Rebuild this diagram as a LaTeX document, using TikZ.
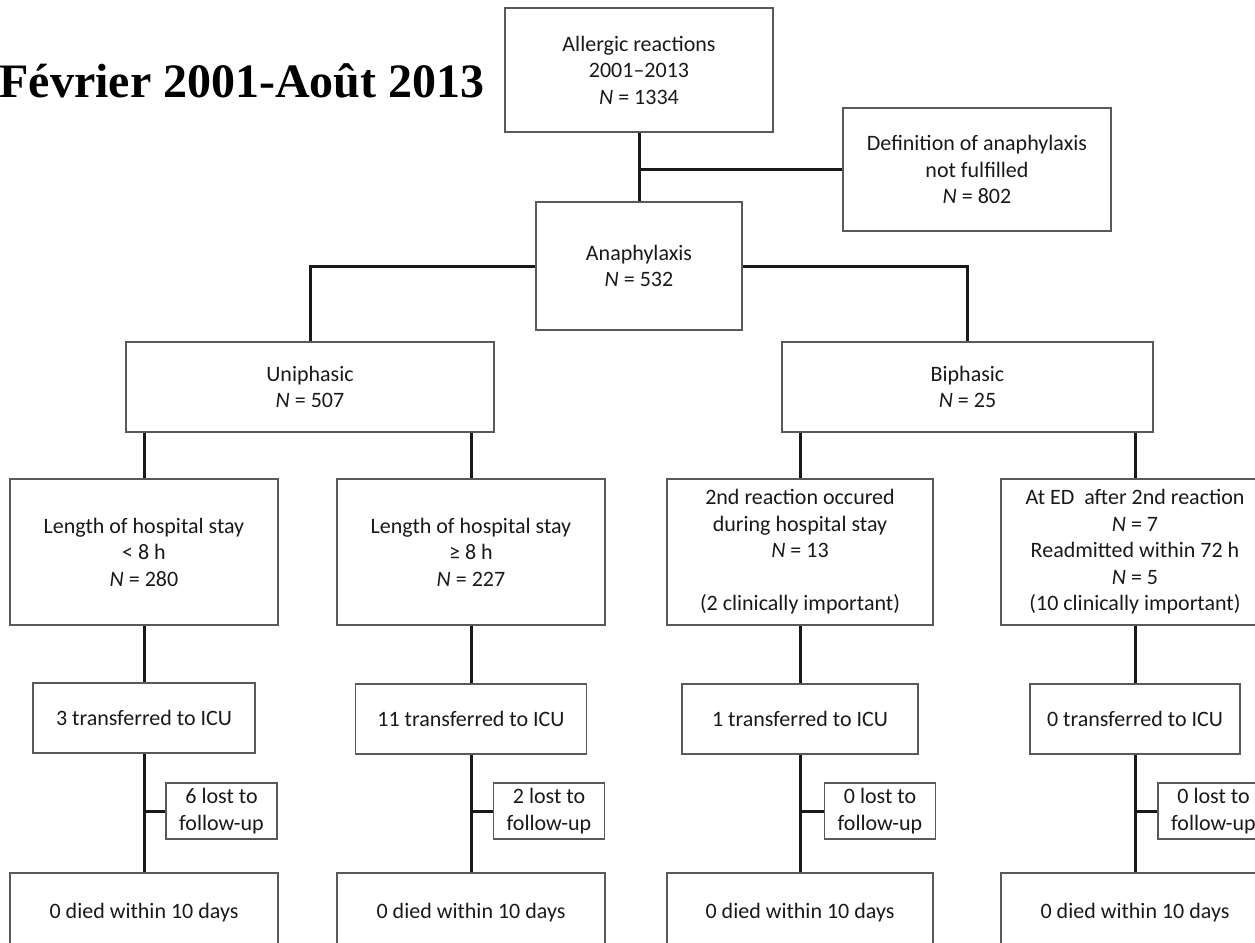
\documentclass[tikz,border=0pt]{standalone}
\usepackage{fontspec}
\setmainfont{Carlito}
\newfontfamily\titlefont{Liberation Serif}
\usetikzlibrary{positioning}

\begin{document}
\begin{tikzpicture}[
    x=0.5pt, y=-0.5pt,
    box/.style={draw=black!65, line width=0.9pt, minimum width=134pt, align=center, inner sep=2pt, text=black!90, font=\fontsize{11}{13.25}\selectfont},
    icubox/.style={box, minimum height=35pt},
    lostbox/.style={box, minimum width=55.5pt, minimum height=28pt, inner sep=1pt},
    conn/.style={draw=black!90, line width=1.5pt},
]
\useasboundingbox (0,0) rectangle (1255,943);

% Title
\node[font=\titlefont\bfseries\fontsize{24}{28}\selectfont, anchor=base east, inner sep=0pt] (period) at (485,97) {Février 2001-Août 2013};

% Top: selection
\node[box, minimum height=62pt] (allergic) at (639,70) {Allergic reactions\\2001–2013\\\textit{N} = 1334};
\node[box, minimum height=61.5pt] (notdef) at (977,169.5) {Definition of anaphylaxis\\not fulfilled\\\textit{N} = 802};
\node[box, minimum width=103pt, minimum height=64pt] (anaph) at (639,266) {Anaphylaxis\\\textit{N} = 532};

\draw[conn] (allergic.south) -- (anaph.north);
\draw[conn] (notdef.west) -- (notdef.west -| allergic.south);

% Phases
\node[box, minimum width=184pt, minimum height=45pt] (uni) at (310,387) {Uniphasic\\\textit{N} = 507};
\node[box, minimum width=185.5pt, minimum height=45pt] (bi) at (967.5,387) {Biphasic\\\textit{N} = 25};

\draw[conn] (anaph.west) -| (uni.north);
\draw[conn] (anaph.east) -| (bi.north);

% Second level
\node[box, minimum height=73pt] (stayshort) at (144,552) {Length of hospital stay\\< 8 h\\\textit{N} = 280};
\node[box, minimum height=73pt] (staylong) at (471,552) {Length of hospital stay\\≥ 8 h\\\textit{N} = 227};
\node[box, minimum width=133pt, minimum height=73pt] (during) at (800,552) {2nd reaction occured\\during hospital stay\\\textit{N} = 13\\[13.25pt](2 clinically important)};
\node[box, minimum height=73pt] (ated) at (1135,552) {At ED~ after 2nd reaction\\\textit{N} = 7\\Readmitted within 72 h\\\textit{N} = 5\\(10 clinically important)};

\draw[conn] (uni.south -| stayshort.north) -- (stayshort.north);
\draw[conn] (uni.south -| staylong.north) -- (staylong.north);
\draw[conn] (bi.south -| during.north) -- (during.north);
\draw[conn] (bi.south -| ated.north) -- (ated.north);

% ICU
\node[icubox, minimum width=111pt] (icushort) at (144,718) {3 transferred to ICU};
\node[icubox, minimum width=115.5pt] (iculong) at (471,719) {11 transferred to ICU};
\node[icubox, minimum width=118pt] (icuduring) at (800,719) {1 transferred to ICU};
\node[icubox, minimum width=105pt] (icuated) at (1135,719) {0 transferred to ICU};

\draw[conn] (stayshort.south) -- (icushort.north);
\draw[conn] (staylong.south) -- (iculong.north);
\draw[conn] (during.south) -- (icuduring.north);
\draw[conn] (ated.south) -- (icuated.north);

% Lost to follow-up
\node[lostbox] (lostshort) at (221.5,811) {6 lost to\\follow-up};
\node[lostbox] (lostlong) at (549,811) {2 lost to\\follow-up};
\node[lostbox] (lostduring) at (880,811) {0 lost to\\follow-up};
\node[lostbox] (lostated) at (1213.5,811) {0 lost to\\follow-up};

% Died
\node[box, minimum height=40pt] (diedshort) at (144,913) {0 died within 10 days};
\node[box, minimum height=40pt] (diedlong) at (471,913) {0 died within 10 days};
\node[box, minimum width=133pt, minimum height=40pt] (diedduring) at (800,913) {0 died within 10 days};
\node[box, minimum height=40pt] (diedated) at (1135,913) {0 died within 10 days};

\draw[conn] (icushort.south) -- (diedshort.north);
\draw[conn] (iculong.south) -- (diedlong.north);
\draw[conn] (icuduring.south) -- (diedduring.north);
\draw[conn] (icuated.south) -- (diedated.north);

\draw[conn] (lostshort.west) -- (lostshort.west -| icushort.south);
\draw[conn] (lostlong.west) -- (lostlong.west -| iculong.south);
\draw[conn] (lostduring.west) -- (lostduring.west -| icuduring.south);
\draw[conn] (lostated.west) -- (lostated.west -| icuated.south);

\end{tikzpicture}
\end{document}
